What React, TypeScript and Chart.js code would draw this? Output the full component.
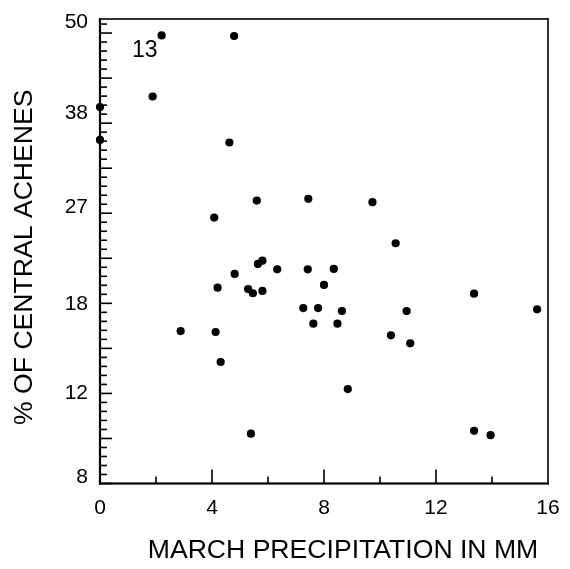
import React, { useEffect, useRef } from "react";
import { Chart, registerables } from "chart.js";

Chart.register(...registerables);

// March precipitation (mm)
const precipitation = [
  2.2, 4.79, 1.88, 0, 0, 4.62, 5.6, 7.44, 4.08, 9.73,
  10.56, 5.64, 5.8, 4.81, 6.33, 7.42, 4.2, 5.29, 5.46, 5.8,
  8.0, 7.26, 7.79, 7.62, 2.88, 4.13, 4.31, 5.39, 8.35, 8.64,
  8.48, 10.95, 10.39, 11.08, 13.36, 15.61, 8.85, 13.36, 13.95,
];

// % of central achenes
const centralAchenes = [
  48.22, 48.15, 40.16, 38.8, 34.71, 34.39, 27.73, 27.92, 25.94, 27.56,
  23.38, 21.45, 21.75, 20.56, 20.97, 20.97, 19.38, 19.27, 18.92, 19.11,
  19.61, 17.73, 17.73, 16.54, 16.0, 15.93, 13.89, 9.89, 21.0, 17.5,
  16.54, 17.5, 15.69, 15.13, 18.88, 17.63, 12.24, 10.03, 9.82,
];

const yTickLabels = [50, 38, 27, 18, 12, 8];
const xTickLabels = [0, 4, 8, 12, 16];
const xMinorTicks = [2, 4, 6, 8, 10, 12, 14];
const yRangePct = [7.75, 50.43];
const xRange = [0, 16];
const annotationIndex = 0;
const annotationText = "13";
const xTitle = "MARCH PRECIPITATION IN MM";
const yTitle = "% OF CENTRAL ACHENES";

const logit = (p: number) => Math.log(p / (100 - p));
const FONT = "'Liberation Sans', Arial, Helvetica, sans-serif";

export default function App() {
  const ref = useRef<HTMLCanvasElement>(null);

  useEffect(() => {
    const canvas = ref.current;
    if (!canvas) return;
    const yMin = logit(yRangePct[0]);
    const yMax = logit(yRangePct[1]);
    const minorStep = 0.04837;

    const frameAndTicks = {
      id: "frameAndTicks",
      afterDraw(chart: any) {
        const { ctx, chartArea, scales } = chart;
        const xs = scales.x;
        const ys = scales.y;
        const L = chartArea.left;
        const R = chartArea.right;
        const T = chartArea.top;
        const B = chartArea.bottom;
        ctx.save();
        ctx.fillStyle = "#000";
        let i = 0;
        while (i < 200) {
          const v = yMin + i * minorStep;
          if (v > yMax) break;
          const py = ys.getPixelForValue(v);
          const len = i % 5 === 0 ? 12 : 7;
          ctx.fillRect(L, py - 0.8, len, 1.6);
          i++;
        }
        xMinorTicks.forEach((v) => {
          const px = xs.getPixelForValue(v);
          const len = v % 4 === 0 ? 14 : 7;
          ctx.fillRect(px - 0.8, B - len, 1.6, len);
        });
        // frame
        ctx.fillRect(L - 1.1, T - 0.8, 2.2, B - T + 1.9);
        ctx.fillRect(L - 1.1, B - 1.1, R - L + 1.9, 2.2);
        ctx.fillRect(L - 1.1, T - 0.8, R - L + 1.9, 1.6);
        ctx.fillRect(R - 0.8, T - 0.8, 1.6, B - T + 1.9);

        // axis titles
        ctx.font = `26.6px ${FONT}`;
        ctx.textAlign = "center";
        ctx.textBaseline = "middle";
        ctx.fillText(xTitle, (L + R) / 2 + 19, 551);
        ctx.save();
        ctx.translate(25, (T + B) / 2 + 6);
        ctx.rotate(-Math.PI / 2);
        ctx.fillText(yTitle, 0, 0);
        ctx.restore();

        // point annotation
        const ax = xs.getPixelForValue(precipitation[annotationIndex]);
        const ay = ys.getPixelForValue(logit(centralAchenes[annotationIndex]));
        ctx.font = `23px ${FONT}`;
        ctx.textAlign = "right";
        ctx.fillText(annotationText, ax - 4, ay + 15);
        ctx.restore();
      },
    };

    const chart = new Chart(canvas, {
      type: "scatter",
      data: {
        datasets: [
          {
            data: precipitation.map((x, i) => ({ x, y: logit(centralAchenes[i]) })),
            backgroundColor: "#000",
            borderColor: "#000",
            pointRadius: 4.1,
            pointBorderWidth: 0,
            clip: false,
          },
        ],
      },
      options: {
        animation: false,
        responsive: false,
        events: [],
        layout: { padding: { left: 0, top: 19, right: 22, bottom: 0 } },
        plugins: { legend: { display: false }, tooltip: { enabled: false } },
        scales: {
          x: {
            type: "linear",
            min: xRange[0],
            max: xRange[1],
            afterBuildTicks: (scale: any) => {
              scale.ticks = xTickLabels.map((v) => ({ value: v }));
            },
            afterFit: (scale: any) => {
              scale.height = 85.5;
              scale.paddingLeft = 0;
              scale.paddingRight = 0;
            },
            grid: { display: false, drawTicks: false },
            border: { display: false },
            ticks: {
              autoSkip: false,
              maxRotation: 0,
              padding: 12,
              color: "#000",
              font: { family: FONT, size: 21 },
              callback: (_v: any, i: number) => String(xTickLabels[i]),
            },
            title: { display: false },
          },
          y: {
            type: "linear",
            min: yMin,
            max: yMax,
            afterBuildTicks: (scale: any) => {
              scale.ticks = yTickLabels.map((v) => ({ value: logit(v) }));
            },
            afterFit: (scale: any) => {
              scale.width = 100;
              scale.paddingTop = 0;
              scale.paddingBottom = 0;
            },
            grid: { display: false, drawTicks: false },
            border: { display: false },
            ticks: {
              autoSkip: false,
              padding: 12,
              color: "#000",
              font: { family: FONT, size: 21 },
              callback: (_v: any, i: number) => String(yTickLabels[i]),
            },
            title: { display: false },
          },
        },
      },
      plugins: [frameAndTicks],
    });

    return () => chart.destroy();
  }, []);

  return (
    <div style={{ position: "absolute", left: 0, top: 0, width: 570, height: 569, background: "#fff" }}>
      <canvas ref={ref} width={570} height={569} style={{ display: "block" }} />
    </div>
  );
}
